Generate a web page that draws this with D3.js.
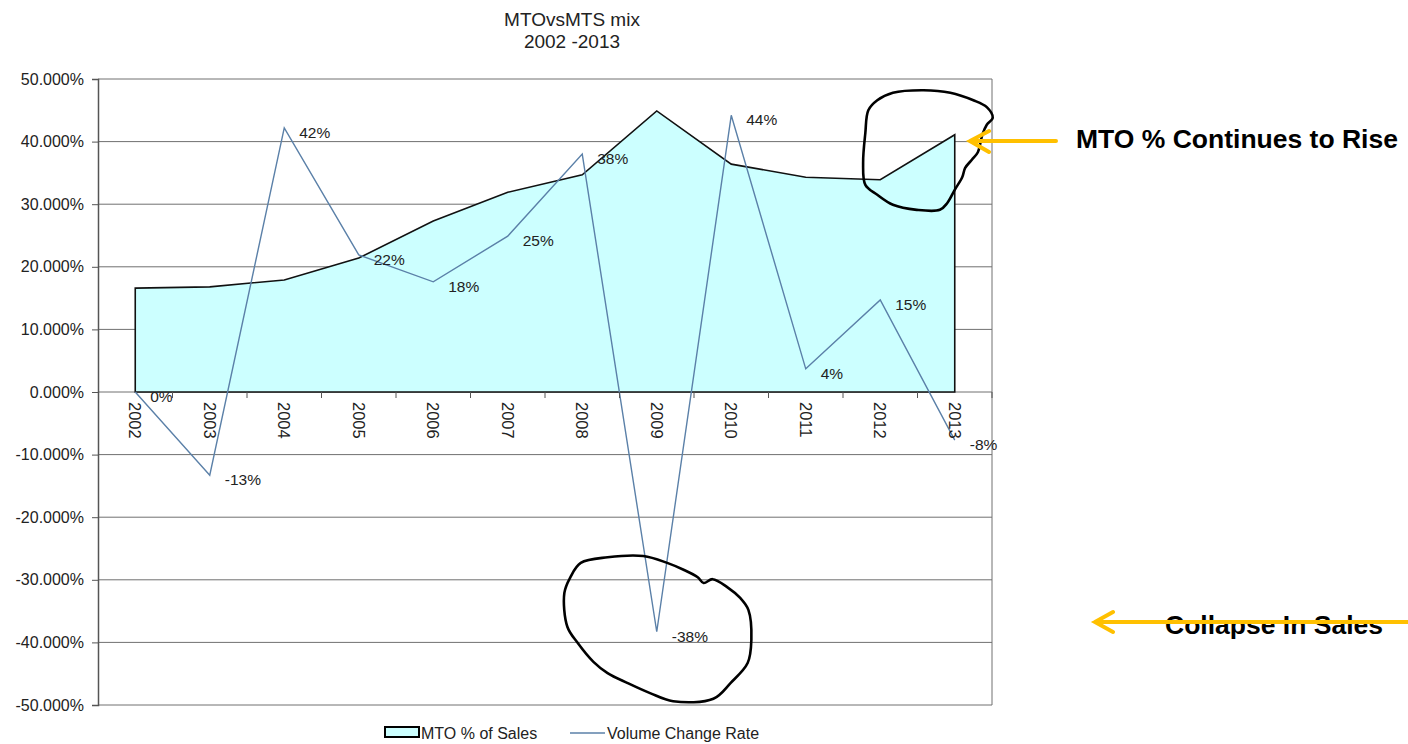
<!DOCTYPE html>
<html lang="en">
<head>
<meta charset="utf-8">
<title>MTOvsMTS mix 2002 - 2013</title>
<script src="https://d3js.org/d3.v7.min.js"></script>
<style>
  body { margin: 0; background: #fff; }
  svg text { font-family: "Liberation Sans", Arial, sans-serif; fill: #222; }
  .grid line { stroke: #707070; stroke-width: 1; }
  .area { fill: #ccffff; stroke: #111; stroke-width: 1.6; }
  .line { fill: none; stroke: #5b80a8; stroke-width: 1.4; }
  .loop { fill: none; stroke: #000; stroke-width: 2.6; stroke-linejoin: round; }
  .arrow { fill: none; stroke: #ffc000; stroke-width: 4; stroke-linecap: round; }
  .note { font-size: 26.5px; font-weight: bold; fill: #000; }
</style>
</head>
<body>
<script>
// data
var years = [2002, 2003, 2004, 2005, 2006, 2007, 2008, 2009, 2010, 2011, 2012, 2013];
var mtoShare = [0.166, 0.168, 0.179, 0.214, 0.273, 0.319, 0.347, 0.449, 0.364, 0.343, 0.339, 0.411];
var volumeChange = [0.000, -0.133, 0.422, 0.219, 0.176, 0.249, 0.380, -0.383, 0.442, 0.037, 0.147, -0.077];
var titleLines = ["MTOvsMTS mix", "2002 -2013"];
var legendNames = ["MTO % of Sales", "Volume Change Rate"];

// hand drawn loops, in [year, percent] units
var loopTop = [[2012.17, 47.8], [2012.58, 48.2], [2012.94, 47.8], [2013.25, 46.6], [2013.43, 45.5],
  [2013.51, 43.8], [2013.43, 42.7], [2013.37, 41.1], [2013.31, 38.3], [2013.23, 37.1],
  [2013.14, 35.8], [2013.10, 34.3], [2013.00, 32.3], [2012.90, 30.2], [2012.80, 29.1],
  [2012.49, 29.1], [2012.17, 29.9], [2011.96, 31.5], [2011.80, 33.1], [2011.77, 36.6],
  [2011.80, 41.4], [2011.84, 45.0], [2011.96, 46.6]];
var loopBottom = [[2008.82, -26.2], [2008.34, -26.4], [2007.98, -27.3], [2007.84, -29.6], [2007.76, -32.1],
  [2007.80, -37.5], [2007.94, -40.1], [2008.15, -43.1], [2008.34, -44.9], [2008.61, -46.5],
  [2008.91, -48.1], [2009.22, -49.4], [2009.76, -49.0], [2009.99, -46.5], [2010.22, -43.3],
  [2010.27, -39.6], [2010.23, -34.8], [2010.12, -32.9], [2009.95, -31.2], [2009.75, -29.9],
  [2009.63, -30.5], [2009.55, -29.6], [2009.36, -28.4], [2009.14, -27.3]];

var w = 1408, h = 744;
var plotLeft = 98, plotRight = 992, plotTop = 79, plotBottom = 705;

var locale = d3.formatLocale({decimal: ".", thousands: ",", grouping: [3], currency: ["$", ""], minus: "-"});
var axisFormat = locale.format(".3%");
var labelFormat = locale.format(".0%");

var svg = d3.select("body").append("svg")
  .attr("width", w)
  .attr("height", h);

var xScale = d3.scaleBand()
  .domain(years)
  .range([plotLeft, plotRight])
  .padding(0);
var bw = xScale.bandwidth();
var cx = function(yr) { return xScale(yr) + bw / 2; };
// continuous position for the loops
var xFloat = function(yr) { return cx(2002) + (yr - 2002) * bw; };

var yScale = d3.scaleLinear()
  .domain([-0.5, 0.5])
  .range([plotBottom, plotTop]);

var rows = years.map(function(d, i) {
  return {year: d, mto: mtoShare[i], vol: volumeChange[i]};
});

// gridlines
svg.append("g")
  .attr("class", "grid")
  .selectAll("line")
  .data(yScale.ticks(10))
  .enter().append("line")
  .attr("x1", plotLeft)
  .attr("x2", plotRight)
  .attr("y1", function(d) { return yScale(d); })
  .attr("y2", function(d) { return yScale(d); });

// right border
svg.append("line")
  .attr("x1", plotRight).attr("x2", plotRight)
  .attr("y1", plotTop).attr("y2", plotBottom)
  .style("stroke", "#707070");

// MTO area
var area = d3.area()
  .x(function(d) { return cx(d.year); })
  .y0(yScale(0))
  .y1(function(d) { return yScale(d.mto); });

svg.append("path")
  .datum(rows)
  .attr("class", "area")
  .attr("d", area);

// volume line
var line = d3.line()
  .x(function(d) { return cx(d.year); })
  .y(function(d) { return yScale(d.vol); });

svg.append("path")
  .datum(rows)
  .attr("class", "line")
  .attr("d", line);

svg.append("g")
  .selectAll("text")
  .data(rows)
  .enter().append("text")
  .attr("x", function(d) { return cx(d.year) + 15; })
  .attr("y", function(d) { return yScale(d.vol) + 10; })
  .style("font-size", "15.5px")
  .text(function(d) { return labelFormat(d.vol); });

// y axis
var yAxis = d3.axisLeft(yScale)
  .ticks(10)
  .tickSize(6)
  .tickPadding(8)
  .tickFormat(axisFormat);

var gy = svg.append("g")
  .attr("transform", "translate(" + plotLeft + ",0)")
  .call(yAxis);
gy.select(".domain").attr("stroke", "#555").attr("stroke-width", 1.5);
gy.selectAll(".tick line").attr("stroke", "#555");
gy.selectAll(".tick text")
  .style("font-size", "16px")
  .style("font-family", "'Liberation Sans', Arial, sans-serif")
  .attr("fill", "#222");

// x axis on the zero line: ticks between categories, labels turned
var gx = svg.append("g")
  .attr("transform", "translate(0," + yScale(0) + ")");

gx.selectAll("line")
  .data(years)
  .enter().append("line")
  .attr("x1", function(d) { return xScale(d) + bw; })
  .attr("x2", function(d) { return xScale(d) + bw; })
  .attr("y1", 0)
  .attr("y2", 6)
  .style("stroke", "#555");

gx.selectAll("text")
  .data(years)
  .enter().append("text")
  .attr("transform", function(d) { return "translate(" + cx(d) + ",10) rotate(90)"; })
  .attr("dy", "0.35em")
  .style("font-size", "16.5px")
  .text(function(d) { return d; });

// title
svg.append("g")
  .selectAll("text")
  .data(titleLines)
  .enter().append("text")
  .attr("x", 572)
  .attr("y", function(d, i) { return 26 + i * 22; })
  .attr("text-anchor", "middle")
  .style("font-size", "19px")
  .text(function(d) { return d; });

// legend
var lg = svg.append("g");
lg.append("rect")
  .attr("x", 385).attr("y", 727)
  .attr("width", 34).attr("height", 10)
  .style("fill", "#ccffff")
  .style("stroke", "#000")
  .style("stroke-width", 2);
lg.append("text")
  .attr("x", 421).attr("y", 739)
  .style("font-size", "16px")
  .text(legendNames[0]);
lg.append("line")
  .attr("x1", 570).attr("x2", 605)
  .attr("y1", 733).attr("y2", 733)
  .attr("class", "line");
lg.append("text")
  .attr("x", 607).attr("y", 739)
  .style("font-size", "16px")
  .text(legendNames[1]);

// hand drawn loops
var loop = d3.line()
  .x(function(d) { return xFloat(d[0]); })
  .y(function(d) { return yScale(d[1] / 100); })
  .curve(d3.curveCatmullRomClosed);

svg.append("path").attr("class", "loop").attr("d", loop(loopTop));
svg.append("path").attr("class", "loop").attr("d", loop(loopBottom));

// notes and arrows
svg.append("text")
  .attr("class", "note")
  .attr("x", 1076).attr("y", 148)
  .text("MTO % Continues to Rise");

svg.append("path")
  .attr("class", "arrow")
  .attr("d", "M1056,141 L970,141 M989,131 L970,141 L989,152");

svg.append("text")
  .attr("class", "note")
  .attr("x", 1165).attr("y", 634)
  .text("Collapse In Sales");

svg.append("path")
  .attr("class", "arrow")
  .attr("d", "M1410,622 L1095,622 M1113,612 L1095,622 L1113,632");
</script>
</body>
</html>
